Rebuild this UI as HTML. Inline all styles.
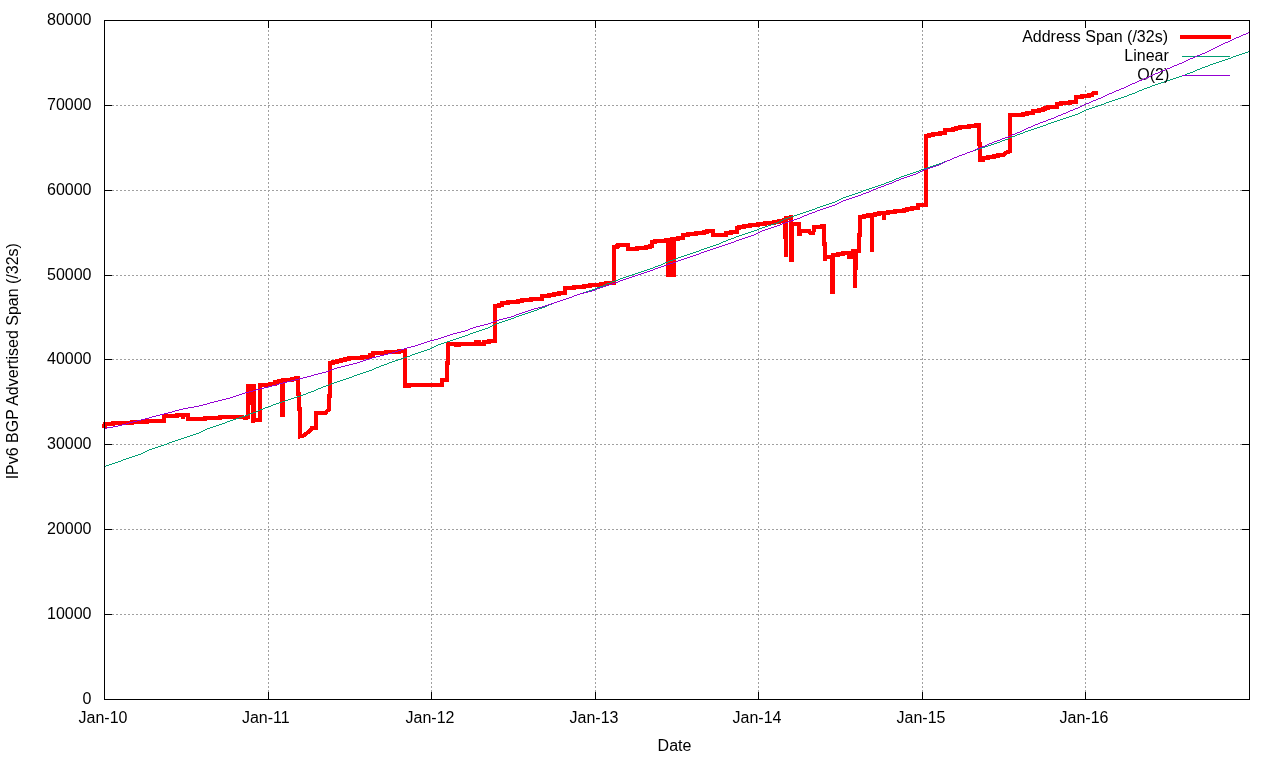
<!DOCTYPE html>
<html><head><meta charset="utf-8"><title>IPv6 BGP Advertised Span</title><style>
html,body{margin:0;padding:0;background:#fff;}
svg{display:block;will-change:transform;}
text{font-family:"Liberation Sans",Arial,sans-serif;font-size:16px;fill:#000;}
</style></head><body>
<svg width="1280" height="760" viewBox="0 0 1280 760">
<rect width="1280" height="760" fill="#fff"/>
<g stroke="#a0a0a0" stroke-width="1" stroke-dasharray="2 2" shape-rendering="crispEdges" fill="none">
<line x1="104" y1="614.5" x2="1249" y2="614.5"/>
<line x1="104" y1="529.5" x2="1249" y2="529.5"/>
<line x1="104" y1="444.5" x2="1249" y2="444.5"/>
<line x1="104" y1="359.5" x2="1249" y2="359.5"/>
<line x1="104" y1="275.5" x2="1249" y2="275.5"/>
<line x1="104" y1="190.5" x2="1249" y2="190.5"/>
<line x1="104" y1="105.5" x2="1249" y2="105.5"/>
<line x1="268.5" y1="700" x2="268.5" y2="20"/>
<line x1="431.5" y1="700" x2="431.5" y2="20"/>
<line x1="595.5" y1="700" x2="595.5" y2="20"/>
<line x1="758.5" y1="700" x2="758.5" y2="20"/>
<line x1="922.5" y1="700" x2="922.5" y2="20"/>
<line x1="1085.5" y1="700" x2="1085.5" y2="86"/>
</g>
<g stroke="#000" stroke-width="1" shape-rendering="crispEdges" fill="none">
<line x1="104" y1="699.5" x2="112" y2="699.5"/>
<line x1="1242" y1="699.5" x2="1250" y2="699.5"/>
<line x1="104" y1="614.5" x2="112" y2="614.5"/>
<line x1="1242" y1="614.5" x2="1250" y2="614.5"/>
<line x1="104" y1="529.5" x2="112" y2="529.5"/>
<line x1="1242" y1="529.5" x2="1250" y2="529.5"/>
<line x1="104" y1="444.5" x2="112" y2="444.5"/>
<line x1="1242" y1="444.5" x2="1250" y2="444.5"/>
<line x1="104" y1="359.5" x2="112" y2="359.5"/>
<line x1="1242" y1="359.5" x2="1250" y2="359.5"/>
<line x1="104" y1="275.5" x2="112" y2="275.5"/>
<line x1="1242" y1="275.5" x2="1250" y2="275.5"/>
<line x1="104" y1="190.5" x2="112" y2="190.5"/>
<line x1="1242" y1="190.5" x2="1250" y2="190.5"/>
<line x1="104" y1="105.5" x2="112" y2="105.5"/>
<line x1="1242" y1="105.5" x2="1250" y2="105.5"/>
<line x1="104" y1="20.5" x2="112" y2="20.5"/>
<line x1="1242" y1="20.5" x2="1250" y2="20.5"/>
<line x1="104.5" y1="700" x2="104.5" y2="692"/>
<line x1="104.5" y1="20" x2="104.5" y2="28"/>
<line x1="268.5" y1="700" x2="268.5" y2="692"/>
<line x1="268.5" y1="20" x2="268.5" y2="28"/>
<line x1="431.5" y1="700" x2="431.5" y2="692"/>
<line x1="431.5" y1="20" x2="431.5" y2="28"/>
<line x1="595.5" y1="700" x2="595.5" y2="692"/>
<line x1="595.5" y1="20" x2="595.5" y2="28"/>
<line x1="758.5" y1="700" x2="758.5" y2="692"/>
<line x1="758.5" y1="20" x2="758.5" y2="28"/>
<line x1="922.5" y1="700" x2="922.5" y2="692"/>
<line x1="922.5" y1="20" x2="922.5" y2="28"/>
<line x1="1085.5" y1="700" x2="1085.5" y2="692"/>
<line x1="1085.5" y1="20" x2="1085.5" y2="28"/>
</g>
<g>
<text x="91.5" y="703.5" text-anchor="end">0</text>
<text x="91.5" y="618.5" text-anchor="end">10000</text>
<text x="91.5" y="533.5" text-anchor="end">20000</text>
<text x="91.5" y="448.5" text-anchor="end">30000</text>
<text x="91.5" y="363.5" text-anchor="end">40000</text>
<text x="91.5" y="279.5" text-anchor="end">50000</text>
<text x="91.5" y="194.5" text-anchor="end">60000</text>
<text x="91.5" y="109.5" text-anchor="end">70000</text>
<text x="91.5" y="24.5" text-anchor="end">80000</text>
<text x="103.0" y="723" text-anchor="middle">Jan-10</text>
<text x="265.8" y="723" text-anchor="middle">Jan-11</text>
<text x="430.0" y="723" text-anchor="middle">Jan-12</text>
<text x="594.0" y="723" text-anchor="middle">Jan-13</text>
<text x="757.0" y="723" text-anchor="middle">Jan-14</text>
<text x="921.0" y="723" text-anchor="middle">Jan-15</text>
<text x="1084.0" y="723" text-anchor="middle">Jan-16</text>
<text x="674.5" y="751" text-anchor="middle">Date</text>
<text transform="translate(18,361.2) rotate(-90)" text-anchor="middle">IPv6 BGP Advertised Span (/32s)</text>
</g>
<text x="1168" y="42" text-anchor="end">Address Span (/32s)</text>
<rect x="1180" y="35" width="51" height="4" fill="#ff0000" shape-rendering="crispEdges"/>
<path d="M104 426 L105 426 L105 424 L112.5 424 L112.5 423 L131.5 423 L131.5 422 L147 422 L147 421 L163.75 421 L163.75 416 L177 416 L177 415 L183 415 L183 418.9 L183 415 L188 415 L188 419.4 L205 419.4 L205 418.4 L220 418.4 L220 417.3 L243 417.3 L244 418 L246 418 L248 417.3 L248 385.9 L253 385.9 L253 422.8 L253 419.8 L260 419.8 L260 385.2 L269.9 385.2 L269.9 384.2 L275 384.2 L275 382 L279.1 382 L279.1 381 L282 381 L282 414.7 L283 414.7 L283 380 L292 380 L292 379.1 L296.1 379.1 L296.1 378.3 L298 378.3 L298 393.7 L299 393.7 L299 408.7 L300 408.7 L300 436.5 L302.5 436.3 L306.5 433.5 L310.5 430.5 L311.5 428.3 L316.3 428.3 L316.3 413.1 L325.5 413.1 L327 411 L328.5 410 L328.5 396 L330 396 L330 363.2 L333 363.2 L333 362.1 L337 362.1 L337 361.1 L341 361.1 L341 360.1 L345 360.1 L345 359.1 L349 359.1 L349 358.1 L362 358.1 L362 357.1 L370 357.1 L370 355.1 L373 355.1 L373 353.1 L386 353.1 L386 352.1 L399 352.1 L399 351.1 L405 351.1 L405 385.7 L409 385.7 L409 385.2 L432 385.2 L432 384.5 L442.2 384.5 L442.2 380.2 L447.3 380.2 L447.3 363 L448.2 363 L448.2 344.25 L456 344.25 L456 345 L459 345 L459 343.5 L476 343.5 L476 342.3 L479 342.3 L479 343.5 L484 343.5 L484 342.3 L489 342.3 L489 341.3 L495 341.3 L495 306.2 L499 306.2 L499 304.9 L502.2 304.9 L502.2 303.2 L508 303.2 L508 302.2 L518 302.2 L518 301.2 L521.5 301.2 L521.5 300.1 L531 300.1 L531 299.3 L541.8 299.3 L541.8 296.3 L548.9 296.3 L548.9 295.3 L554 295.3 L554 294.2 L558.5 294.2 L558.5 293 L565 293 L565 288.2 L574 288.2 L574 287.1 L584.4 287.1 L584.4 286.1 L590 286.1 L590 285.1 L601.2 285.1 L601.2 284.1 L606.3 284.1 L606.3 282.9 L614 282.9 L614 247 L617 247 L617 246 L618.25 246 L618.25 245.1 L628 245.1 L628 249 L637 249 L637 247.9 L646 247.9 L646 247 L649.5 247 L649.5 246.1 L652 246.1 L652 242 L655.1 242 L655.1 241.1 L665.75 241.1 L665.75 240.1 L672 240.1 L672 238.9 L678.25 238.9 L678.25 237.9 L683.25 237.9 L683.25 235.4 L688.3 235.4 L688.3 234.2 L696.2 234.2 L696.2 233 L704.4 233 L704.4 232.1 L707.1 232.1 L707.1 231 L712.5 231 L712.5 234.5 L726.2 234.5 L726.2 233 L731.3 233 L731.3 232.1 L737.2 232.1 L737.2 228.1 L739.1 228.1 L739.1 227.1 L744.2 227.1 L744.2 226.1 L750.1 226.1 L750.1 225.1 L758.3 225.1 L758.3 224 L765.3 224 L765.3 223 L774.3 223 L774.3 222 L779 222 L779 220.8 L783.5 220.8 L783.5 220 L785 220 L785 237 L786 237 L786 256.9 L786 218 L791 217.1 L791 259.7 L792 259.7 L792 224.3 L798.5 224.3 L798.5 233.8 L799.5 233.8 L799.5 231 L809.5 231 L810 232.5 L813.5 232.5 L814 227.1 L822 227.1 L822 225.9 L824 225.9 L824 244 L825 244 L825 260.6 L826 257 L832 257 L832 291.8 L833 291.8 L833 255.3 L838.3 255.3 L838.3 254 L843 254 L843 253.1 L848.8 253.1 L848.8 257 L853 257 L853 251.2 L854.9 251.2 L854.9 287.7 L854.9 268 L856 268 L856 251.2 L858.9 251.2 L858.9 234.8 L860.2 234.8 L860.2 217.3 L864.1 217.3 L864.1 216.2 L868.4 216.2 L868.4 215.1 L872 215.1 L872 251.6 L872 215.1 L875.3 215.1 L875.3 214 L879.1 214 L879.1 213 L884 213 L884 219.8 L884 213 L888.2 213 L888.2 212.1 L895 212.1 L895 211 L904.1 211 L904.1 210.2 L907.1 210.2 L907.1 209 L912.2 209 L912.2 208 L918.3 208 L918.3 205.3 L926 205.3 L926 136.25 L929 136.25 L929 135.2 L933.3 135.2 L933.3 134.2 L940.4 134.2 L940.4 133.1 L944.7 133.1 L944.7 130.2 L953.25 130.2 L953.25 129.2 L956.4 129.2 L956.4 128.2 L959.5 128.2 L959.5 127.2 L969.3 127.2 L969.3 126.25 L975.5 126.25 L975.5 125.3 L979 125.3 L979 143.8 L980 143.8 L980 159.75 L982.5 159.75 L982.5 158.4 L988.4 158.4 L988.4 157.3 L993.9 157.3 L993.9 156.1 L998.2 156.1 L998.2 155.2 L1003 155.2 L1006 152.5 L1010 151.5 L1010 115.3 L1023 115.3 L1023 114.1 L1026.9 114.1 L1026.9 113 L1033.2 113 L1033.2 111.4 L1039 111.4 L1039 110.2 L1042.5 110.2 L1042.5 109 L1045.3 109 L1045.3 107.9 L1048.4 107.9 L1048.4 106.9 L1057 106.9 L1057 104.4 L1060.9 104.4 L1060.9 103.3 L1070.3 103.3 L1070.3 102.25 L1076.1 102.25 L1076.1 97.3 L1082.4 97.3 L1082.4 96.2 L1089 96.2 L1089 95.2 L1092 95.2 L1093.5 92.5 L1096 92.5" fill="none" stroke="#ff0000" stroke-width="4" stroke-linejoin="miter" stroke-linecap="square" shape-rendering="crispEdges"/>
<rect x="250" y="386" width="1" height="18.8" fill="#ff0000" shape-rendering="crispEdges"/>
<rect x="255" y="384" width="1" height="34" fill="#ff0000" shape-rendering="crispEdges"/>
<rect x="666" y="238" width="10" height="38.5" fill="#ff0000" shape-rendering="crispEdges"/>
<text x="1168.8" y="61" text-anchor="end">Linear</text>
<rect x="1182" y="56" width="48" height="1" fill="#009e73" shape-rendering="crispEdges"/>
<path d="M104 466.5h2M106 465.5h3M109 464.5h3M112 463.5h3M115 462.5h3M118 461.5h3M121 460.5h2M123 459.5h3M126 458.5h3M129 457.5h3M132 456.5h3M135 455.5h3M138 454.5h3M141 453.5h2M143 452.5h2M145 451.5h2M147 450.5h2M149 449.5h3M152 448.5h3M155 447.5h3M158 446.5h3M161 445.5h3M164 444.5h3M167 443.5h2M169 442.5h3M172 441.5h3M175 440.5h3M178 439.5h3M181 438.5h3M184 437.5h3M187 436.5h3M190 435.5h3M193 434.5h3M196 433.5h3M199 432.5h2M201 431.5h2M203 430.5h2M205 429.5h2M207 428.5h3M210 427.5h3M213 426.5h3M216 425.5h3M219 424.5h3M222 423.5h3M225 422.5h2M227 421.5h3M230 420.5h3M233 419.5h3M236 418.5h3M239 417.5h3M242 416.5h3M245 415.5h3M248 414.5h2M250 413.5h3M253 412.5h3M256 411.5h2M258 410.5h2M260 409.5h3M263 408.5h2M265 407.5h3M268 406.5h3M271 405.5h2M273 404.5h3M276 403.5h3M279 402.5h3M282 401.5h3M285 400.5h3M288 399.5h3M291 398.5h3M294 397.5h3M297 396.5h3M300 395.5h3M303 394.5h3M306 393.5h2M308 392.5h3M311 391.5h3M314 390.5h2M316 389.5h2M318 388.5h3M321 387.5h2M323 386.5h3M326 385.5h3M329 384.5h2M331 383.5h3M334 382.5h3M337 381.5h3M340 380.5h3M343 379.5h3M346 378.5h3M349 377.5h3M352 376.5h2M354 375.5h3M357 374.5h3M360 373.5h3M363 372.5h3M366 371.5h3M369 370.5h3M372 369.5h2M374 368.5h2M376 367.5h3M379 366.5h2M381 365.5h3M384 364.5h3M387 363.5h2M389 362.5h3M392 361.5h3M395 360.5h3M398 359.5h3M401 358.5h3M404 357.5h3M407 356.5h3M410 355.5h2M412 354.5h3M415 353.5h3M418 352.5h3M421 351.5h3M424 350.5h3M427 349.5h3M430 348.5h2M432 347.5h2M434 346.5h2M436 345.5h2M438 344.5h3M441 343.5h3M444 342.5h3M447 341.5h3M450 340.5h3M453 339.5h3M456 338.5h3M459 337.5h3M462 336.5h3M465 335.5h3M468 334.5h2M470 333.5h3M473 332.5h3M476 331.5h3M479 330.5h3M482 329.5h3M485 328.5h3M488 327.5h2M490 326.5h2M492 325.5h2M494 324.5h2M496 323.5h3M499 322.5h3M502 321.5h3M505 320.5h3M508 319.5h3M511 318.5h3M514 317.5h2M516 316.5h3M519 315.5h3M522 314.5h3M525 313.5h3M528 312.5h3M531 311.5h3M534 310.5h3M537 309.5h2M539 308.5h3M542 307.5h3M545 306.5h2M547 305.5h2M549 304.5h3M552 303.5h2M554 302.5h3M557 301.5h3M560 300.5h3M563 299.5h3M566 298.5h3M569 297.5h3M572 296.5h2M574 295.5h3M577 294.5h3M580 293.5h3M583 292.5h3M586 291.5h3M589 290.5h3M592 289.5h3M595 288.5h2M597 287.5h3M600 286.5h3M603 285.5h2M605 284.5h2M607 283.5h3M610 282.5h2M612 281.5h3M615 280.5h3M618 279.5h2M620 278.5h3M623 277.5h3M626 276.5h3M629 275.5h3M632 274.5h3M635 273.5h3M638 272.5h3M641 271.5h3M644 270.5h3M647 269.5h3M650 268.5h3M653 267.5h2M655 266.5h3M658 265.5h3M661 264.5h2M663 263.5h2M665 262.5h3M668 261.5h2M670 260.5h3M673 259.5h3M676 258.5h2M678 257.5h3M681 256.5h3M684 255.5h3M687 254.5h3M690 253.5h3M693 252.5h3M696 251.5h3M699 250.5h2M701 249.5h3M704 248.5h3M707 247.5h3M710 246.5h3M713 245.5h3M716 244.5h3M719 243.5h2M721 242.5h2M723 241.5h3M726 240.5h2M728 239.5h3M731 238.5h3M734 237.5h2M736 236.5h3M739 235.5h3M742 234.5h3M745 233.5h3M748 232.5h3M751 231.5h3M754 230.5h3M757 229.5h2M759 228.5h3M762 227.5h3M765 226.5h3M768 225.5h3M771 224.5h3M774 223.5h3M777 222.5h2M779 221.5h2M781 220.5h2M783 219.5h2M785 218.5h3M788 217.5h3M791 216.5h3M794 215.5h3M797 214.5h3M800 213.5h3M803 212.5h3M806 211.5h3M809 210.5h3M812 209.5h3M815 208.5h2M817 207.5h3M820 206.5h3M823 205.5h3M826 204.5h3M829 203.5h3M832 202.5h3M835 201.5h2M837 200.5h2M839 199.5h2M841 198.5h2M843 197.5h3M846 196.5h3M849 195.5h3M852 194.5h3M855 193.5h3M858 192.5h3M861 191.5h2M863 190.5h3M866 189.5h3M869 188.5h3M872 187.5h3M875 186.5h3M878 185.5h3M881 184.5h3M884 183.5h2M886 182.5h3M889 181.5h3M892 180.5h2M894 179.5h2M896 178.5h3M899 177.5h2M901 176.5h3M904 175.5h3M907 174.5h3M910 173.5h3M913 172.5h3M916 171.5h3M919 170.5h2M921 169.5h3M924 168.5h3M927 167.5h3M930 166.5h3M933 165.5h3M936 164.5h3M939 163.5h3M942 162.5h2M944 161.5h3M947 160.5h3M950 159.5h2M952 158.5h2M954 157.5h3M957 156.5h2M959 155.5h3M962 154.5h3M965 153.5h2M967 152.5h3M970 151.5h3M973 150.5h3M976 149.5h3M979 148.5h3M982 147.5h3M985 146.5h3M988 145.5h3M991 144.5h3M994 143.5h3M997 142.5h3M1000 141.5h2M1002 140.5h3M1005 139.5h3M1008 138.5h2M1010 137.5h2M1012 136.5h3M1015 135.5h2M1017 134.5h3M1020 133.5h3M1023 132.5h2M1025 131.5h3M1028 130.5h3M1031 129.5h3M1034 128.5h3M1037 127.5h3M1040 126.5h3M1043 125.5h3M1046 124.5h2M1048 123.5h3M1051 122.5h3M1054 121.5h3M1057 120.5h3M1060 119.5h3M1063 118.5h3M1066 117.5h3M1069 116.5h3M1072 115.5h3M1075 114.5h3M1078 113.5h2M1080 112.5h2M1082 111.5h2M1084 110.5h2M1086 109.5h3M1089 108.5h3M1092 107.5h3M1095 106.5h3M1098 105.5h3M1101 104.5h3M1104 103.5h2M1106 102.5h3M1109 101.5h3M1112 100.5h3M1115 99.5h3M1118 98.5h3M1121 97.5h3M1124 96.5h3M1127 95.5h2M1129 94.5h3M1132 93.5h3M1135 92.5h2M1137 91.5h2M1139 90.5h3M1142 89.5h2M1144 88.5h3M1147 87.5h3M1150 86.5h2M1152 85.5h3M1155 84.5h3M1158 83.5h3M1161 82.5h3M1164 81.5h3M1167 80.5h3M1170 79.5h3M1173 78.5h3M1176 77.5h3M1179 76.5h3M1182 75.5h3M1185 74.5h2M1187 73.5h3M1190 72.5h3M1193 71.5h2M1195 70.5h2M1197 69.5h3M1200 68.5h2M1202 67.5h3M1205 66.5h3M1208 65.5h2M1210 64.5h3M1213 63.5h3M1216 62.5h3M1219 61.5h3M1222 60.5h3M1225 59.5h3M1228 58.5h3M1231 57.5h2M1233 56.5h3M1236 55.5h3M1239 54.5h3M1242 53.5h3M1245 52.5h3M1248 51.5h2" fill="none" stroke="#009e73" stroke-width="1" shape-rendering="crispEdges"/>
<text x="1169.3" y="80" text-anchor="end">O(2)</text>
<rect x="1182" y="75" width="48" height="1" fill="#9400d3" shape-rendering="crispEdges"/>
<path d="M104 428.5h3M107 427.5h6M113 426.5h5M118 425.5h4M122 424.5h4M126 423.5h3M129 422.5h4M133 421.5h4M137 420.5h4M141 419.5h4M145 418.5h4M149 417.5h3M152 416.5h4M156 415.5h4M160 414.5h4M164 413.5h4M168 412.5h4M172 411.5h3M175 410.5h4M179 409.5h4M183 408.5h5M188 407.5h6M194 406.5h5M199 405.5h4M203 404.5h4M207 403.5h3M210 402.5h4M214 401.5h4M218 400.5h4M222 399.5h4M226 398.5h4M230 397.5h3M233 396.5h3M236 395.5h3M239 394.5h3M242 393.5h3M245 392.5h4M249 391.5h4M253 390.5h3M256 389.5h4M260 388.5h4M264 387.5h4M268 386.5h4M272 385.5h4M276 384.5h3M279 383.5h4M283 382.5h4M287 381.5h4M291 380.5h4M295 379.5h4M299 378.5h4M303 377.5h4M307 376.5h4M311 375.5h3M314 374.5h4M318 373.5h4M322 372.5h4M326 371.5h3M329 370.5h2M331 369.5h3M334 368.5h3M337 367.5h4M341 366.5h4M345 365.5h4M349 364.5h4M353 363.5h4M357 362.5h3M360 361.5h3M363 360.5h3M366 359.5h3M369 358.5h3M372 357.5h4M376 356.5h4M380 355.5h4M384 354.5h4M388 353.5h4M392 352.5h3M395 351.5h3M398 350.5h3M401 349.5h3M404 348.5h3M407 347.5h4M411 346.5h4M415 345.5h3M418 344.5h3M421 343.5h3M424 342.5h3M427 341.5h3M430 340.5h4M434 339.5h4M438 338.5h3M441 337.5h3M444 336.5h3M447 335.5h3M450 334.5h3M453 333.5h4M457 332.5h4M461 331.5h4M465 330.5h3M468 329.5h2M470 328.5h3M473 327.5h3M476 326.5h4M480 325.5h4M484 324.5h4M488 323.5h3M491 322.5h2M493 321.5h3M496 320.5h3M499 319.5h4M503 318.5h4M507 317.5h4M511 316.5h3M514 315.5h2M516 314.5h3M519 313.5h3M522 312.5h3M525 311.5h3M528 310.5h3M531 309.5h3M534 308.5h4M538 307.5h4M542 306.5h3M545 305.5h3M548 304.5h3M551 303.5h3M554 302.5h3M557 301.5h3M560 300.5h3M563 299.5h3M566 298.5h3M569 297.5h3M572 296.5h2M574 295.5h3M577 294.5h3M580 293.5h4M584 292.5h4M588 291.5h4M592 290.5h3M595 289.5h2M597 288.5h3M600 287.5h3M603 286.5h3M606 285.5h3M609 284.5h3M612 283.5h3M615 282.5h3M618 281.5h2M620 280.5h3M623 279.5h3M626 278.5h3M629 277.5h3M632 276.5h3M635 275.5h3M638 274.5h3M641 273.5h3M644 272.5h3M647 271.5h3M650 270.5h3M653 269.5h2M655 268.5h3M658 267.5h3M661 266.5h3M664 265.5h3M667 264.5h3M670 263.5h3M673 262.5h3M676 261.5h2M678 260.5h3M681 259.5h3M684 258.5h3M687 257.5h3M690 256.5h3M693 255.5h3M696 254.5h3M699 253.5h2M701 252.5h3M704 251.5h3M707 250.5h3M710 249.5h3M713 248.5h3M716 247.5h3M719 246.5h3M722 245.5h3M725 244.5h3M728 243.5h3M731 242.5h3M734 241.5h2M736 240.5h3M739 239.5h3M742 238.5h3M745 237.5h3M748 236.5h3M751 235.5h3M754 234.5h2M756 233.5h2M758 232.5h2M760 231.5h2M762 230.5h3M765 229.5h3M768 228.5h3M771 227.5h3M774 226.5h3M777 225.5h3M780 224.5h2M782 223.5h3M785 222.5h3M788 221.5h3M791 220.5h3M794 219.5h3M797 218.5h3M800 217.5h2M802 216.5h2M804 215.5h3M807 214.5h2M809 213.5h3M812 212.5h3M815 211.5h2M817 210.5h3M820 209.5h3M823 208.5h3M826 207.5h3M829 206.5h3M832 205.5h3M835 204.5h2M837 203.5h2M839 202.5h2M841 201.5h2M843 200.5h3M846 199.5h3M849 198.5h3M852 197.5h3M855 196.5h3M858 195.5h3M861 194.5h2M863 193.5h3M866 192.5h3M869 191.5h2M871 190.5h2M873 189.5h3M876 188.5h2M878 187.5h3M881 186.5h3M884 185.5h2M886 184.5h3M889 183.5h3M892 182.5h2M894 181.5h2M896 180.5h3M899 179.5h2M901 178.5h3M904 177.5h3M907 176.5h3M910 175.5h3M913 174.5h3M916 173.5h2M918 172.5h2M920 171.5h2M922 170.5h2M924 169.5h3M927 168.5h3M930 167.5h3M933 166.5h3M936 165.5h3M939 164.5h2M941 163.5h2M943 162.5h2M945 161.5h2M947 160.5h3M950 159.5h2M952 158.5h2M954 157.5h3M957 156.5h2M959 155.5h3M962 154.5h3M965 153.5h2M967 152.5h3M970 151.5h3M973 150.5h2M975 149.5h2M977 148.5h3M980 147.5h2M982 146.5h3M985 145.5h2M987 144.5h2M989 143.5h3M992 142.5h2M994 141.5h3M997 140.5h3M1000 139.5h2M1002 138.5h3M1005 137.5h3M1008 136.5h2M1010 135.5h2M1012 134.5h3M1015 133.5h2M1017 132.5h3M1020 131.5h2M1022 130.5h2M1024 129.5h2M1026 128.5h2M1028 127.5h3M1031 126.5h2M1033 125.5h2M1035 124.5h3M1038 123.5h2M1040 122.5h3M1043 121.5h3M1046 120.5h2M1048 119.5h3M1051 118.5h3M1054 117.5h2M1056 116.5h2M1058 115.5h3M1061 114.5h2M1063 113.5h3M1066 112.5h2M1068 111.5h2M1070 110.5h3M1073 109.5h2M1075 108.5h3M1078 107.5h2M1080 106.5h2M1082 105.5h2M1084 104.5h2M1086 103.5h3M1089 102.5h2M1091 101.5h2M1093 100.5h3M1096 99.5h2M1098 98.5h3M1101 97.5h2M1103 96.5h2M1105 95.5h2M1107 94.5h2M1109 93.5h3M1112 92.5h2M1114 91.5h2M1116 90.5h3M1119 89.5h2M1121 88.5h3M1124 87.5h2M1126 86.5h2M1128 85.5h2M1130 84.5h2M1132 83.5h3M1135 82.5h2M1137 81.5h2M1139 80.5h3M1142 79.5h2M1144 78.5h3M1147 77.5h2M1149 76.5h2M1151 75.5h2M1153 74.5h2M1155 73.5h3M1158 72.5h2M1160 71.5h2M1162 70.5h3M1165 69.5h2M1167 68.5h3M1170 67.5h2M1172 66.5h2M1174 65.5h3M1177 64.5h2M1179 63.5h3M1182 62.5h2M1184 61.5h2M1186 60.5h2M1188 59.5h2M1190 58.5h3M1193 57.5h2M1195 56.5h2M1197 55.5h3M1200 54.5h2M1202 53.5h3M1205 52.5h2M1207 51.5h2M1209 50.5h2M1211 49.5h2M1213 48.5h2M1215 47.5h2M1217 46.5h2M1219 45.5h2M1221 44.5h2M1223 43.5h2M1225 42.5h3M1228 41.5h2M1230 40.5h2M1232 39.5h2M1234 38.5h2M1236 37.5h3M1239 36.5h2M1241 35.5h2M1243 34.5h3M1246 33.5h2M1248 32.5h2" fill="none" stroke="#9400d3" stroke-width="1" shape-rendering="crispEdges"/>
<rect x="104.5" y="20.5" width="1145" height="679" stroke="#000" stroke-width="1" fill="none" shape-rendering="crispEdges"/>
</svg>
</body></html>
